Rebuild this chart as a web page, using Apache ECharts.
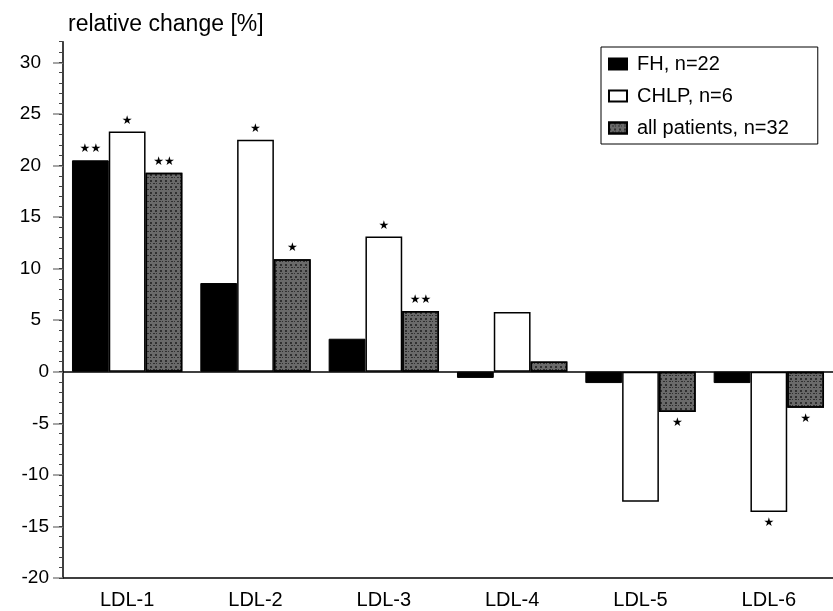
<!DOCTYPE html>
<html>
<head>
<meta charset="utf-8">
<script src="https://cdn.jsdelivr.net/npm/echarts@6/dist/echarts.min.js"></script>
<style>html,body{margin:0;padding:0;background:#fff}#c{width:833px;height:611px}</style>
</head>
<body>
<div id="c"></div>
<script>
var categories = ['LDL-1', 'LDL-2', 'LDL-3', 'LDL-4', 'LDL-5', 'LDL-6'];
var fhValues = [20.5, 8.6, 3.2, -0.6, -1.1, -1.1];
var chlpValues = [23.3, 22.5, 13.1, 5.8, -12.6, -13.6];
var allValues = [19.3, 10.9, 5.9, 1.0, -3.9, -3.5];
var fhMarks = ['**', '', '', '', '', ''];
var chlpMarks = ['*', '*', '*', '', '', '*'];
var allMarks = ['**', '*', '**', '', '*', '*'];
var yTicks = [-20, -15, -10, -5, 0, 5, 10, 15, 20, 25, 30];
var seriesNames = ['FH, n=22', 'CHLP, n=6', 'all patients, n=32'];
var yAxisTitle = 'relative change [%]';

var minorTicks = [];
for (var v = -20; v <= 32; v++) minorTicks.push(v);

var FONT = '"Liberation Sans", Arial, sans-serif';

function makeData(values, marks) {
  return values.map(function (val, i) {
    var neg = val < 0;
    return {
      value: val,
      label: {
        show: marks[i] !== '',
        formatter: marks[i].replace(/\*/g, '\u2605'),
        position: neg ? 'bottom' : 'top',
        distance: 5
      }
    };
  });
}

var starLabel = {
  fontFamily: '"DejaVu Sans", sans-serif',
  fontSize: 12,
  color: '#000'
};

var chart = echarts.init(document.getElementById('c'), null, {renderer: 'canvas'});
chart.setOption({
  animation: false,
  backgroundColor: '#fff',
  title: {
    text: yAxisTitle,
    left: 63,
    top: 8,
    textStyle: {fontFamily: FONT, fontSize: 23, fontWeight: 'normal', color: '#000'}
  },
  legend: {
    orient: 'vertical',
    left: 601,
    top: 47,
    padding: [7, 29, 6, 7],
    itemGap: 12,
    itemWidth: 18,
    itemHeight: 11,
    icon: 'rect',
    borderColor: '#000',
    borderWidth: 1,
    backgroundColor: '#fff',
    textStyle: {fontFamily: FONT, fontSize: 20, color: '#000', padding: [0, 0, 0, 5]},
    data: seriesNames
  },
  grid: {left: 63, right: -6, top: 41.7, bottom: 33, containLabel: false},
  xAxis: {
    type: 'category',
    data: categories,
    axisLine: {onZero: false, lineStyle: {color: '#000', width: 1.5}},
    axisTick: {show: false},
    axisLabel: {fontFamily: FONT, fontSize: 20, color: '#000', margin: 12},
    splitLine: {show: false}
  },
  yAxis: [{
    type: 'value',
    position: 'left',
    min: -20,
    max: 32,
    axisLine: {show: true, lineStyle: {color: '#000', width: 1.5}},
    axisTick: {show: true, customValues: yTicks, length: 10, lineStyle: {color: '#888', width: 1.5}},
    axisLabel: {
      customValues: yTicks,
      fontFamily: FONT, fontSize: 19, color: '#000', margin: 14,
      formatter: function (val) { return val > 0 ? '{p|' + val + '}' : '{n|' + val + '}'; },
      rich: {
        p: {fontFamily: FONT, fontSize: 19, color: '#000', padding: [0, 8, 0, 0]},
        n: {fontFamily: FONT, fontSize: 19, color: '#000'}
      }
    },
    splitLine: {show: false}
  }, {
    type: 'value',
    position: 'left',
    min: -20,
    max: 32,
    axisLine: {show: false},
    axisTick: {show: true, customValues: minorTicks, length: 4, lineStyle: {color: '#444', width: 1}},
    axisLabel: {show: false},
    splitLine: {show: false}
  }],
  series: [{
    name: seriesNames[0],
    type: 'bar',
    barGap: '0%',
    barCategoryGap: '14%',
    itemStyle: {color: '#000', borderColor: '#000', borderWidth: 1},
    label: starLabel,
    data: makeData(fhValues, fhMarks),
    markLine: {
      silent: true,
      symbol: 'none',
      label: {show: false},
      lineStyle: {color: '#000', width: 1.5, type: 'solid'},
      data: [{yAxis: 0}]
    }
  }, {
    name: seriesNames[1],
    type: 'bar',
    barGap: '0%',
    barCategoryGap: '14%',
    itemStyle: {color: '#fff', borderColor: '#000', borderWidth: 1.5},
    label: starLabel,
    data: makeData(chlpValues, chlpMarks)
  }, {
    name: seriesNames[2],
    type: 'bar',
    barGap: '0%',
    barCategoryGap: '14%',
    itemStyle: {
      color: '#6a6a6a', borderColor: '#000', borderWidth: 1.5,
      decal: {
        symbol: 'rect',
        symbolSize: 1,
        color: 'rgba(10,10,10,0.6)',
        dashArrayX: [[2, 3], [1, 2, 2, 1]],
        dashArrayY: [2, 1, 1, 2],
        rotation: 0
      }
    },
    label: starLabel,
    data: makeData(allValues, allMarks)
  }]
});
</script>
</body>
</html>
